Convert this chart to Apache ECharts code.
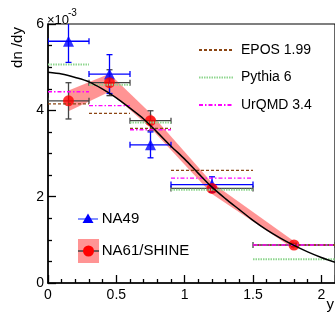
<!DOCTYPE html>
<html>
<head>
<meta charset="utf-8">
<script src="https://cdn.jsdelivr.net/npm/echarts@6/dist/echarts.min.js"></script>
<style>
  html, body { margin: 0; padding: 0; background: #fff; }
  #chart { width: 335px; height: 322px; }
</style>
</head>
<body>
<div id="chart"></div>
<script>
// rapidity bins
const binLow = [0, 0.3, 0.6, 0.9, 1.5];
const binHigh = [0.3, 0.6, 0.9, 1.5, 2.1];

// NA61/SHINE dn/dy (x 1e-3)
const na61X = [0.15, 0.45, 0.75, 1.2, 1.8];
const na61Y = [4.22, 4.64, 3.76, 2.19, 0.88];
const na61Stat = [0.42, 0.30, 0.23, 0.08, 0.04];
const na61Sys = [0.24, 0.21, 0.17, 0.13, 0.09];

// NA49
const na49X = [0.15, 0.45, 0.75, 1.2];
const na49Y = [5.60, 4.84, 3.20, 2.28];
const na49Err = [0.49, 0.45, 0.30, 0.18];
const na49Low = [0, 0.3, 0.6, 0.9];
const na49High = [0.3, 0.6, 0.9, 1.5];

// model predictions, one value per bin
const eposY = [4.15, 3.93, 3.58, 2.61, 0.88];
const pythiaY = [5.06, 4.59, 3.72, 2.16, 0.55];
const urqmdY = [4.43, 4.11, 3.55, 2.43, 0.88];

// fit curve
const fitX = [0, 0.1, 0.2, 0.3, 0.4, 0.5, 0.6, 0.7, 0.8, 0.9, 1.0, 1.1, 1.2, 1.3, 1.4, 1.5, 1.6, 1.7, 1.8, 1.9, 2.0, 2.1];
const fitY = [4.88, 4.84, 4.76, 4.66, 4.49, 4.29, 4.05, 3.80, 3.49, 3.17, 2.87, 2.54, 2.22, 1.95, 1.70, 1.45, 1.23, 1.04, 0.87, 0.72, 0.59, 0.48];

const FONT = 'Liberation Sans, Arial, sans-serif';

const binned = (vals) =>
  vals.flatMap((v, i) => [[binLow[i], v], [binHigh[i], v], [binHigh[i], null]]);

const errorBars = (color) => (params, api) => {
  const x = api.value(0);
  const y = api.value(1);
  const e = api.value(4);
  const l = api.coord([api.value(2), y]);
  const h = api.coord([api.value(3), y]);
  const t = api.coord([x, y + e]);
  const b = api.coord([x, y - e]);
  const cap = 3;
  const style = { stroke: color, lineWidth: 1.3, fill: null };
  const segs = [
    [l, h],
    [[l[0], l[1] - cap], [l[0], l[1] + cap]],
    [[h[0], h[1] - cap], [h[0], h[1] + cap]],
    [t, b],
    [[t[0] - cap, t[1]], [t[0] + cap, t[1]]],
    [[b[0] - cap, b[1]], [b[0] + cap, b[1]]],
  ];
  return {
    type: 'group',
    children: segs.map((s) => ({
      type: 'line',
      shape: { x1: s[0][0], y1: s[0][1], x2: s[1][0], y2: s[1][1] },
      style,
    })),
  };
};

// one quad of the systematic band between neighbouring points
const bandSegment = (params, api) => {
  const x0 = api.value(0), y0 = api.value(1), s0 = api.value(2);
  const x1 = api.value(3), y1 = api.value(4), s1 = api.value(5);
  const pts = [
    api.coord([x0, y0 - s0]),
    api.coord([x1, y1 - s1]),
    api.coord([x1, y1 + s1]),
    api.coord([x0, y0 + s0]),
  ];
  return {
    type: 'polygon',
    shape: { points: pts },
    style: { fill: 'rgba(255,0,0,0.42)' },
  };
};

const chart = echarts.init(document.getElementById('chart'));

chart.setOption({
  animation: false,
  textStyle: { fontFamily: FONT },
  grid: {
    left: 48, right: 0, top: 24, bottom: 39,
    show: true, borderColor: '#000', borderWidth: 1.2,
  },
  legend: {
    orient: 'vertical',
    left: 198,
    top: 43,
    padding: 0,
    itemWidth: 34,
    itemHeight: 14,
    itemGap: 13.5,
    data: ['EPOS 1.99', 'Pythia 6', 'UrQMD 3.4'],
    itemStyle: { opacity: 0 },
    textStyle: { fontSize: 14, color: '#000', padding: [0, 0, 0, 3], fontFamily: FONT },
  },
  xAxis: {
    type: 'value',
    min: 0,
    max: 2.1,
    interval: 0.5,
    axisLine: { lineStyle: { color: '#000', width: 1.5 } },
    axisTick: { inside: true, length: 8, lineStyle: { color: '#000', width: 1.3 } },
    minorTick: { show: true, splitNumber: 5, length: 4, lineStyle: { color: '#000', width: 1.3 } },
    axisLabel: { fontSize: 14, color: '#000', margin: 5, showMaxLabel: false },
    splitLine: { show: false },
  },
  yAxis: {
    type: 'value',
    min: 0,
    max: 6,
    interval: 2,
    axisLine: { lineStyle: { color: '#000', width: 1.5 } },
    axisTick: { inside: true, length: 8, lineStyle: { color: '#000', width: 1.3 } },
    minorTick: { show: true, splitNumber: 4, length: 4, lineStyle: { color: '#000', width: 1.3 } },
    axisLabel: { fontSize: 14, color: '#000', margin: 4 },
    splitLine: { show: false },
  },
  graphic: [
    { type: 'text', left: 47, top: 14, style: { text: '×10', fontSize: 13, fontFamily: FONT, fill: '#000' } },
    { type: 'text', left: 68, top: 8, style: { text: '-3', fontSize: 10, fontFamily: FONT, fill: '#000' } },
    {
      type: 'text', x: 17.5, y: 47.5, rotation: Math.PI / 2,
      style: { text: 'dn /dy', fontSize: 15, fontFamily: FONT, fill: '#000', align: 'center', verticalAlign: 'middle' },
    },
    {
      type: 'text', x: 334, y: 297,
      style: { text: 'y', fontSize: 15, fontFamily: FONT, fill: '#000', align: 'right', verticalAlign: 'top' },
    },
    // lower legend
    { type: 'line', shape: { x1: 78, y1: 219, x2: 98, y2: 219 }, style: { stroke: '#5a6cff', lineWidth: 1.5 } },
    { type: 'polygon', shape: { points: [[88, 213.5], [82.5, 223], [93.5, 223]] }, style: { fill: '#0000ff' } },
    {
      type: 'text', x: 101.7, y: 219,
      style: { text: 'NA49', fontSize: 15, fontFamily: FONT, fill: '#000', verticalAlign: 'middle' },
    },
    { type: 'rect', shape: { x: 78, y: 239, width: 21, height: 24 }, style: { fill: 'rgba(255,0,0,0.42)' } },
    { type: 'line', shape: { x1: 78, y1: 251, x2: 99, y2: 251 }, style: { stroke: '#444', lineWidth: 1.5 } },
    { type: 'circle', shape: { cx: 88.5, cy: 251, r: 5.5 }, style: { fill: '#ff0000' } },
    {
      type: 'text', x: 101.7, y: 251,
      style: { text: 'NA61/SHINE', fontSize: 15, fontFamily: FONT, fill: '#000', verticalAlign: 'middle' },
    },
  ],
  series: [
    {
      name: 'sys',
      type: 'custom',
      silent: true,
      data: na61X.slice(0, -1).map((x, i) => [
        x, na61Y[i], na61Sys[i], na61X[i + 1], na61Y[i + 1], na61Sys[i + 1],
      ]),
      renderItem: bandSegment,
    },
    {
      name: 'EPOS 1.99',
      type: 'line',
      data: binned(eposY),
      symbol: 'circle',
      showSymbol: false,
      itemStyle: { color: '#8b4513' },
      lineStyle: { color: '#8b4513', width: 1.3, type: [3, 2] },
    },
    {
      name: 'Pythia 6',
      type: 'line',
      data: binned(pythiaY),
      symbol: 'circle',
      showSymbol: false,
      itemStyle: { color: '#8fd68f' },
      lineStyle: { color: '#8fd68f', width: 2, type: [1.5, 1] },
    },
    {
      name: 'UrQMD 3.4',
      type: 'line',
      data: binned(urqmdY),
      symbol: 'circle',
      showSymbol: false,
      itemStyle: { color: '#ff00ff' },
      lineStyle: { color: '#ff00ff', width: 1.3, type: [4, 2, 1.5, 2] },
    },
    {
      name: 'fit',
      type: 'line',
      data: fitX.map((x, i) => [x, fitY[i]]),
      smooth: 0.3,
      symbol: 'none',
      lineStyle: { color: '#000', width: 1.5 },
    },
    {
      name: 'NA61 errors',
      type: 'custom',
      clip: true,
      data: na61X.map((x, i) => [x, na61Y[i], binLow[i], binHigh[i], na61Stat[i]]),
      renderItem: errorBars('#444'),
    },
    {
      name: 'NA49 errors',
      type: 'custom',
      clip: true,
      data: na49X.map((x, i) => [x, na49Y[i], na49Low[i], na49High[i], na49Err[i]]),
      renderItem: errorBars('#0000ff'),
    },
    {
      name: 'NA49',
      type: 'scatter',
      data: na49X.map((x, i) => [x, na49Y[i]]),
      symbol: 'triangle',
      symbolSize: 11,
      itemStyle: { color: '#0000ff' },
    },
    {
      name: 'NA61/SHINE',
      type: 'scatter',
      data: na61X.map((x, i) => [x, na61Y[i]]),
      symbol: 'circle',
      symbolSize: 11,
      itemStyle: { color: '#ff0000' },
    },
  ],
});
</script>
</body>
</html>
